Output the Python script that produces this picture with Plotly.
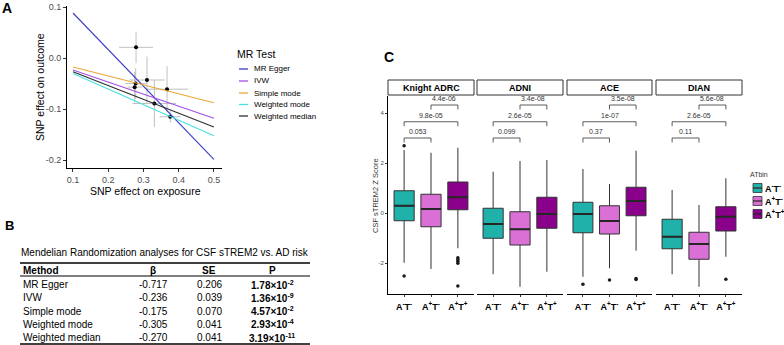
import plotly.graph_objects as go

W, H = 784, 345
FONT = "Liberation Sans, Arial, Helvetica, sans-serif"


def px(x):
    return x / W


def py(y):
    return 1 - y / H


# ---------------- Panel A / B data ----------------
methods = ["MR Egger", "IVW", "Simple mode", "Weighted mode", "Weighted median"]
betas = [-0.717, -0.236, -0.175, -0.305, -0.270]
ses = [0.206, 0.039, 0.070, 0.041, 0.041]
p_mant = ["1.78", "1.36", "4.57", "2.93", "3.19"]
p_exp = [-2, -9, -2, -4, -11]
intercepts = [0.16, 0.0, 0.0, 0.0, 0.0]
line_colors = ["#3d3dc4", "#a24fe6", "#e9a83a", "#48e0e0", "#2e2e2e"]
x_span = [0.1, 0.5]

snp_x = [0.279, 0.310, 0.367, 0.278, 0.275, 0.331, 0.376]
snp_y = [0.021, -0.043, -0.061, -0.050, -0.057, -0.089, -0.115]
snp_xerr = [0.048, 0.050, 0.060, 0.030, 0.020, 0.062, 0.030]
snp_yerr = [0.031, 0.046, 0.045, 0.030, 0.030, 0.046, 0.012]

# ---------------- Panel C data ----------------
cohorts = ["Knight ADRC", "ADNI", "ACE", "DIAN"]
at_groups = ["A<sup>-</sup>T<sup>-</sup>", "A<sup>+</sup>T<sup>-</sup>", "A<sup>+</sup>T<sup>+</sup>"]
at_colors = ["#20b2aa", "#da70d6", "#8b008b"]
box_upper = [[2.52, 2.41, 2.61], [1.65, 2.08, 2.12], [1.76, 1.16, 2.49], [0.92, 0.32, 1.39]]
box_q3 = [[0.89, 0.75, 1.24], [0.19, 0.05, 0.63], [0.43, 0.29, 1.03], [-0.25, -0.77, 0.25]]
box_med = [[0.29, 0.16, 0.63], [-0.44, -0.65, -0.04], [-0.04, -0.32, 0.48], [-0.95, -1.24, -0.15]]
box_q1 = [[-0.31, -0.55, 0.13], [-1.01, -1.28, -0.61], [-0.79, -0.84, -0.11], [-1.43, -1.85, -0.72]]
box_lower = [[-1.99, -2.24, -1.41], [-2.45, -2.95, -2.35], [-2.55, -2.21, -1.51], [-2.45, -2.95, -1.75]]
outliers = [
    [[2.69, -2.52], [], [-1.79, -1.86, -1.93, -2.01, -2.92]],
    [[], [], []],
    [[-2.85], [-2.68], [-2.62, -2.66]],
    [[], [], [-2.65]],
]
bracket_pairs = [(0, 1), (0, 2), (1, 2)]
bracket_heights = [3.0, 3.65, 4.32]
bracket_pvals = [
    ["0.053", "9.8e-05", "4.4e-06"],
    ["0.099", "2.6e-05", "3.4e-08"],
    ["0.37", "1e-07", "3.5e-08"],
    ["0.11", "2.6e-05", "5.6e-08"],
]
y_ticks_c = [-2, 0, 2, 4]

fig = go.Figure()

# ---------------- Panel A traces ----------------
fig.add_trace(go.Scatter(
    x=snp_x, y=snp_y, mode="markers",
    marker=dict(color="black", size=4),
    error_x=dict(type="data", array=snp_xerr, color="#b0b0b0", thickness=0.8, width=0),
    error_y=dict(type="data", array=snp_yerr, color="#b0b0b0", thickness=0.8, width=0),
    showlegend=False, xaxis="x", yaxis="y", hoverinfo="skip",
))
for m, b, a, c in zip(methods, betas, intercepts, line_colors):
    fig.add_trace(go.Scatter(
        x=x_span, y=[a + b * xv for xv in x_span], mode="lines",
        line=dict(color=c, width=1.1), name=m, showlegend=False,
        xaxis="x", yaxis="y", hoverinfo="skip",
    ))

# ---------------- Panel C traces ----------------
c_left = [388, 477, 567, 656]
c_right = [474, 563, 652, 742]
bw = 0.75
for ci, coh in enumerate(cohorts):
    ax = str(ci + 2)
    xa, ya = "x" + ax, "y" + ax
    for gi in range(3):
        fig.add_trace(go.Box(
            x=[gi], q1=[box_q1[ci][gi]], median=[box_med[ci][gi]], q3=[box_q3[ci][gi]],
            lowerfence=[box_lower[ci][gi]], upperfence=[box_upper[ci][gi]],
            width=bw, whiskerwidth=0, boxpoints=False,
            fillcolor=at_colors[gi], line=dict(color="#333333", width=1),
            name=at_groups[gi], showlegend=False,
            xaxis=xa, yaxis=ya, hoverinfo="skip",
        ))
    mx, my = [], []
    for gi in range(3):
        mx += [gi - bw / 2, gi + bw / 2, None]
        my += [box_med[ci][gi]] * 2 + [None]
    fig.add_trace(go.Scatter(x=mx, y=my, mode="lines", line=dict(color="#262626", width=2),
                             showlegend=False, xaxis=xa, yaxis=ya, hoverinfo="skip"))
    ox, oy = [], []
    for gi in range(3):
        ox += [gi] * len(outliers[ci][gi])
        oy += outliers[ci][gi]
    if ox:
        fig.add_trace(go.Scatter(x=ox, y=oy, mode="markers", marker=dict(color="#1a1a1a", size=3.5),
                                 showlegend=False, xaxis=xa, yaxis=ya, hoverinfo="skip"))
    bx, by = [], []
    for (a, b), h in zip(bracket_pairs, bracket_heights):
        bx += [a, a, b, b, None]
        by += [h - 0.18, h, h, h - 0.18, None]
    fig.add_trace(go.Scatter(x=bx, y=by, mode="lines", line=dict(color="#333333", width=0.8),
                             showlegend=False, xaxis=xa, yaxis=ya, hoverinfo="skip"))
    for (a, b), h, lab in zip(bracket_pairs, bracket_heights, bracket_pvals[ci]):
        fig.add_annotation(x=(a + b) / 2, y=h + 0.03, xref=xa, yref=ya, text=lab, showarrow=False,
                           yanchor="bottom", font=dict(size=7, color="#333333", family=FONT))

# ---------------- Layout ----------------
layout = dict(
    width=W, height=H, autosize=False,
    margin=dict(l=0, r=0, t=0, b=0, pad=0, autoexpand=False),
    paper_bgcolor="white", plot_bgcolor="white",
    font=dict(family=FONT, color="black"),
    boxmode="overlay", showlegend=False,
    xaxis=dict(domain=[px(67), px(222)], range=[0.083, 0.523], anchor="y", automargin=False,
               tickvals=[0.1, 0.2, 0.3, 0.4, 0.5], ticktext=["0.1", "0.2", "0.3", "0.4", "0.5"],
               showline=True, linecolor="black", linewidth=1, ticks="outside", ticklen=3,
               tickcolor="#333333", showgrid=False, zeroline=False, ticklabeloverflow="allow",
               tickfont=dict(size=9, color="#4d4d4d")),
    yaxis=dict(domain=[py(168), py(5.5)], range=[-0.2155, 0.103], anchor="x", automargin=False,
               tickvals=[-0.2, -0.1, 0.0, 0.1], ticktext=["-0.2", "-0.1", "0.0", "0.1"],
               showline=True, linecolor="black", linewidth=1, ticks="outside", ticklen=3,
               tickcolor="#333333", showgrid=False, zeroline=False, ticklabeloverflow="allow",
               tickfont=dict(size=9, color="#4d4d4d")),
)
for ci in range(4):
    ax = str(ci + 2)
    layout["xaxis" + ax] = dict(
        domain=[px(c_left[ci]), px(c_right[ci])], range=[-0.6, 2.6], anchor="y" + ax, automargin=False,
        tickvals=[0, 1, 2], ticktext=["<b>" + g + "</b>" for g in at_groups],
        showline=True, linecolor="black", linewidth=1, ticks="outside", ticklen=2,
        tickcolor="#333333", showgrid=False, zeroline=False, ticklabelstandoff=2,
        tickfont=dict(size=9, color="black"))
    layout["yaxis" + ax] = dict(
        domain=[py(294), py(96)], range=[-3.24, 4.68], anchor="x" + ax, automargin=False,
        tickvals=y_ticks_c, ticktext=[str(v) for v in y_ticks_c],
        showline=(ci == 0), linecolor="black", linewidth=1,
        ticks="outside" if ci == 0 else "", ticklen=2, tickcolor="#333333",
        showticklabels=(ci == 0), showgrid=False, zeroline=False,
        tickfont=dict(size=6, color="#4d4d4d"))
fig.update_layout(**layout)

# ---------------- Annotations, legends, table ----------------
ann = []
shapes = []
ann.append(dict(x=px(7), y=py(8), text="<b>A</b>", font=dict(size=14)))
ann.append(dict(x=px(9), y=py(226), text="<b>B</b>", font=dict(size=13)))
ann.append(dict(x=px(389), y=py(57), text="<b>C</b>", font=dict(size=14)))
ann.append(dict(x=px(145), y=py(191), text="SNP effect on exposure", font=dict(size=10.5)))
ann.append(dict(x=px(40), y=py(87), text="SNP effect on outcome", font=dict(size=10.5), textangle=-90))
ann.append(dict(x=px(375), y=py(196), text="CSF sTREM2 Z Score", font=dict(size=7.5, color="#333333"),
                textangle=-90))

# Legend for panel A (MR Test)
ann.append(dict(x=px(236), y=py(54), xanchor="left", text="MR Test", font=dict(size=10.5)))
leg_a_y = [69, 81, 93, 104.5, 116]
for m, c, yy in zip(methods, line_colors, leg_a_y):
    shapes.append(dict(type="line", xref="paper", yref="paper", x0=px(239), x1=px(248),
                       y0=py(yy), y1=py(yy), line=dict(color=c, width=1.3)))
    ann.append(dict(x=px(253), y=py(yy), xanchor="left", text=m, font=dict(size=8)))

# Legend for panel C (ATbin)
ann.append(dict(x=px(749), y=py(174), xanchor="left", text="ATbin", font=dict(size=7, color="#333333")))
leg_c_y = [188, 201, 214]
for g, c, yy in zip(at_groups, at_colors, leg_c_y):
    shapes.append(dict(type="rect", xref="paper", yref="paper", x0=px(753), x1=px(762),
                       y0=py(yy + 4.5), y1=py(yy - 4.5), fillcolor=c,
                       line=dict(color="#333333", width=0.8)))
    shapes.append(dict(type="line", xref="paper", yref="paper", x0=px(753), x1=px(762),
                       y0=py(yy), y1=py(yy), line=dict(color="#262626", width=1.2)))
    ann.append(dict(x=px(764), y=py(yy), xanchor="left", text="<b>" + g + "</b>", font=dict(size=9)))

# Strip labels
for ci, coh in enumerate(cohorts):
    shapes.append(dict(type="rect", xref="paper", yref="paper",
                       x0=px(c_left[ci]), x1=px(c_right[ci]), y0=py(95), y1=py(80),
                       line=dict(color="#333333", width=1), fillcolor="white"))
    ann.append(dict(x=px((c_left[ci] + c_right[ci]) / 2), y=py(87.5), text="<b>" + coh + "</b>",
                    font=dict(size=9)))

# Panel B table
tl, tr = 20, 310
ann.append(dict(x=px(tl), y=py(253), xanchor="left",
                text="Mendelian Randomization analyses for CSF sTREM2 vs. AD risk", font=dict(size=10)))
shapes.append(dict(type="line", xref="paper", yref="paper", x0=px(tl), x1=px(tr), y0=py(263), y1=py(263),
                   line=dict(color="black", width=1.5)))
shapes.append(dict(type="line", xref="paper", yref="paper", x0=px(tl), x1=px(tr), y0=py(276), y1=py(276),
                   line=dict(color="black", width=1)))
shapes.append(dict(type="line", xref="paper", yref="paper", x0=px(tl), x1=px(tr), y0=py(344), y1=py(344),
                   line=dict(color="black", width=1.5)))
col_method, col_beta, col_se, col_p = 22, 153, 209, 272
ann.append(dict(x=px(col_method), y=py(270), xanchor="left", text="<b>Method</b>", font=dict(size=10)))
ann.append(dict(x=px(col_beta), y=py(270), text="<b>β</b>", font=dict(size=10)))
ann.append(dict(x=px(col_se), y=py(270), text="<b>SE</b>", font=dict(size=10)))
ann.append(dict(x=px(col_p), y=py(270), text="<b>P</b>", font=dict(size=10)))
for i, (m, b, s, pm, pe) in enumerate(zip(methods, betas, ses, p_mant, p_exp)):
    yy = 284.5 + 13.3 * i
    ann.append(dict(x=px(col_method), y=py(yy), xanchor="left", text=m, font=dict(size=10)))
    ann.append(dict(x=px(col_beta), y=py(yy), text=f"{b:.3f}", font=dict(size=10)))
    ann.append(dict(x=px(col_se), y=py(yy), text=f"{s:.3f}", font=dict(size=10)))
    ann.append(dict(x=px(col_p), y=py(yy), text=f"<b>{pm}×10<sup>{pe}</sup></b>", font=dict(size=10)))

for a in ann:
    a.setdefault("xref", "paper")
    a.setdefault("yref", "paper")
    a.setdefault("showarrow", False)
    a.setdefault("xanchor", "center")
    a.setdefault("yanchor", "middle")
    a.setdefault("borderpad", 0)
    fig.add_annotation(**a)
for s in shapes:
    fig.add_shape(**s)

fig.write_html(
    "out.html",
    config={"displayModeBar": False},
    post_script="document.body.style.margin='0';document.body.style.padding='0';",
)
